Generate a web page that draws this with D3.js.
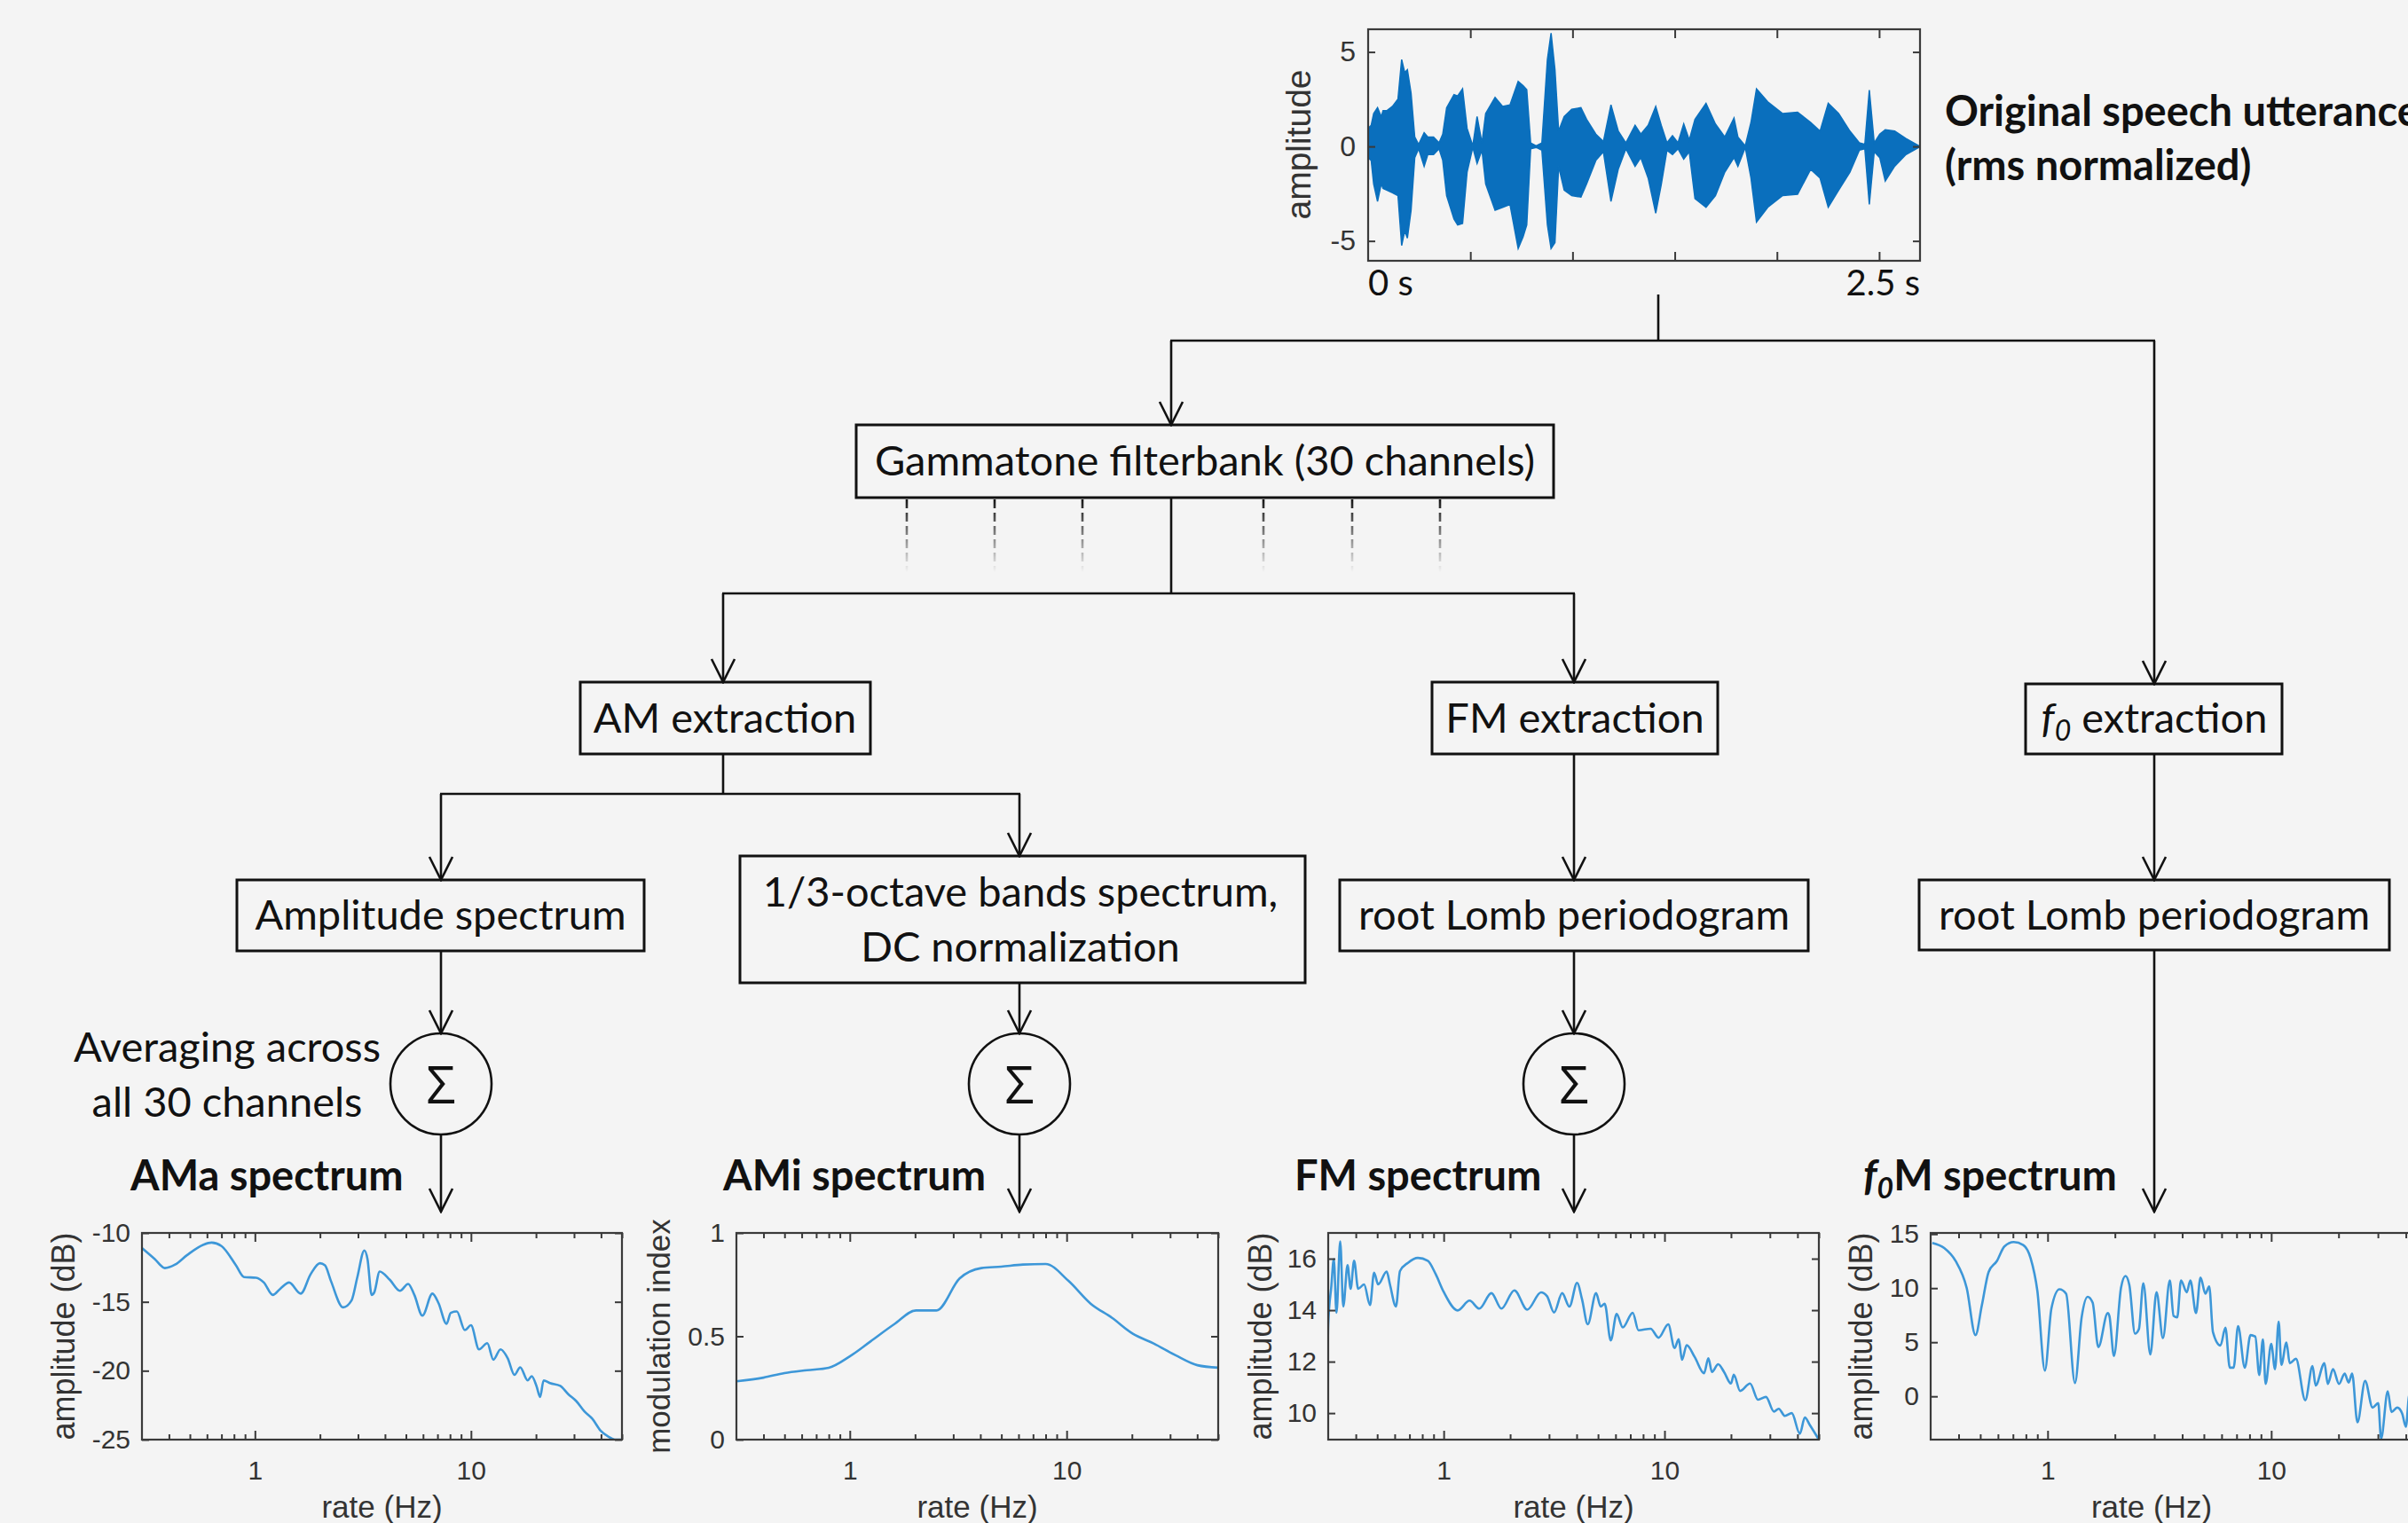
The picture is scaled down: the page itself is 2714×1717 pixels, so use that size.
<!DOCTYPE html>
<html>
<head>
<meta charset="utf-8">
<script src="https://cdn.jsdelivr.net/npm/d3@7"></script>
<style>
  html, body { margin: 0; padding: 0; background: #f4f4f4; }
  svg { display: block; }
  .flow { font-family: Lato, "Open Sans", sans-serif; fill: #111; }
  .axisText { font-family: "Liberation Sans", Arial, sans-serif; fill: #333; }
  .tick text { font-family: "Liberation Sans", Arial, sans-serif; fill: #333; }
  .tick line { stroke: #3a3a3a; stroke-width: 2; }
</style>
</head>
<body>
<div id="chart"></div>
<script>
// ---- data ----
// speech waveform envelope (time in s, upper / lower amplitude)
const waveT = [0.000, 0.015, 0.027, 0.046, 0.064, 0.073, 0.091, 0.119, 0.146, 0.164, 0.179, 0.192, 0.210, 0.228, 0.247, 0.274, 0.292, 0.320, 0.347, 0.365,
  0.384, 0.420, 0.438, 0.462, 0.484, 0.512, 0.533, 0.557, 0.575, 0.621, 0.658, 0.694, 0.734, 0.758, 0.776, 0.795, 0.822, 0.850, 0.877, 0.895,
  0.914, 0.932, 0.959, 0.996, 1.041, 1.069, 1.114, 1.151, 1.188, 1.224, 1.261, 1.306, 1.334, 1.370, 1.407, 1.434, 1.462, 1.489, 1.516, 1.544,
  1.571, 1.599, 1.653, 1.699, 1.745, 1.790, 1.809, 1.845, 1.873, 1.900, 1.955, 2.028, 2.101, 2.165, 2.211, 2.251, 2.302, 2.357, 2.403, 2.430,
  2.452, 2.476, 2.503, 2.530, 2.576, 2.631, 2.695];
const waveMax = [0.96, 1.12, 1.74, 2.05, 1.58, 1.89, 1.89, 2.12, 2.51, 4.60, 3.91, 4.06, 2.82, 0.50, 0.11, 0.73, 0.50, 0.50, 0.19, 0.65,
  2.05, 2.74, 2.67, 3.05, 0.96, 0.03, 1.58, 0.19, 1.74, 2.59, 2.12, 2.20, 3.44, 3.22, 3.00, 0.19, 0.03, 0.19, 4.60, 6.00,
  4.06, 0.81, 1.58, 1.97, 2.05, 1.43, 0.65, 0.26, 2.20, 0.81, 0.19, 1.12, 0.65, 1.12, 2.12, 1.12, 0.19, 0.57, 0.19, 1.19,
  0.34, 1.43, 2.28, 1.19, 0.50, 1.50, 0.50, 0.03, 1.27, 3.05, 2.36, 1.74, 1.81, 1.27, 0.81, 2.28, 1.74, 0.81, 0.19, 0.11,
  2.98, 0.19, 0.65, 0.88, 0.81, 0.42, 0.03];
const waveMin = [-0.59, -0.74, -1.98, -2.91, -1.98, -2.22, -2.31, -2.45, -2.60, -5.24, -4.47, -4.85, -3.38, -0.59, -0.12, -1.05, -0.43, -0.43, -0.12, -0.74,
  -2.60, -3.84, -4.15, -4.08, -1.36, -0.05, -0.90, -0.20, -1.98, -3.38, -3.22, -3.07, -5.40, -4.78, -4.15, -0.12, -0.05, -0.20, -4.15, -5.40,
  -5.09, -1.05, -2.31, -2.60, -2.68, -1.98, -0.74, -0.28, -2.91, -1.19, -0.12, -1.05, -0.59, -1.67, -3.53, -2.02, -0.20, -0.43, -0.12, -0.67,
  -0.28, -2.76, -3.22, -2.60, -1.36, -0.59, -1.05, -0.05, -1.67, -4.00, -3.22, -2.60, -2.53, -1.21, -1.67, -3.22, -2.31, -1.36, -0.20, -0.12,
  -3.07, -0.28, -0.59, -1.83, -1.05, -0.43, -0.05];
const waveYTicks = [-5, 0, 5];
const waveXTicks = [0.5, 1, 1.5, 2, 2.5];

// AMa spectrum (rate Hz, amplitude dB)
const amaF = [0.30, 0.344, 0.383, 0.427, 0.486, 0.578, 0.63, 0.70, 0.817, 0.89, 1.013, 1.10, 1.21, 1.31, 1.44, 1.63, 1.81, 2.0, 2.11, 2.25,
  2.56, 2.80, 2.98, 3.21, 3.32, 3.47, 3.57, 3.78, 4.21, 4.69, 5.12, 5.47, 5.96, 6.63, 7.08, 7.71, 8.06, 8.6, 9.37, 10.0,
  10.9, 11.9, 12.7, 13.7, 14.8, 15.9, 16.9, 18.3, 19.1, 20.1, 20.9, 21.7, 23.2, 25.9, 28.2, 30.7, 33.5, 36.5, 39.8, 43.4, 46.3, 50];
const amaDb = [-11.1, -11.9, -12.55, -12.3, -11.6, -10.85, -10.7, -10.95, -12.35, -13.2, -13.25, -13.6, -14.5, -14.05, -13.6, -14.4, -13.0, -12.2, -12.35, -13.5,
  -15.4, -14.9, -13.2, -11.27, -11.9, -14.5, -14.3, -12.8, -13.4, -14.2, -13.7, -14.5, -16.0, -14.4, -15.1, -16.6, -15.8, -15.7, -17.05, -16.7,
  -18.45, -18.0, -19.2, -18.45, -19.1, -20.3, -19.75, -20.7, -20.4, -21.1, -21.9, -20.7, -20.9, -21.1, -21.7, -22.2, -22.95, -23.5, -24.35, -24.8, -25.0, -25.0];

// AMi spectrum (rate Hz, modulation index)
const amiF = [0.30, 0.40, 0.50, 0.635, 0.80, 1.0, 1.245, 1.60, 2.02, 2.51, 3.21, 4.04, 4.99, 6.29, 8.0, 10.2, 12.9, 16.2, 20.2, 25.2, 31.8, 40.1, 50];
const amiIdx = [0.282, 0.30, 0.322, 0.336, 0.348, 0.403, 0.475, 0.558, 0.625, 0.625, 0.78, 0.83, 0.837, 0.847, 0.85, 0.768, 0.658, 0.589, 0.512, 0.465, 0.408, 0.36, 0.348];

// FM spectrum (rate Hz, amplitude dB)
const fmF = [0.298, 0.30, 0.31, 0.318, 0.327, 0.34, 0.351, 0.367, 0.379, 0.393, 0.41, 0.436, 0.464, 0.484, 0.505, 0.552, 0.571, 0.608, 0.634, 0.689,
  0.764, 0.847, 0.92, 1.0, 1.157, 1.31, 1.45, 1.645, 1.825, 2.09, 2.39, 2.76, 2.94, 3.16, 3.44, 3.71, 4.02, 4.23, 4.49, 4.9,
  5.14, 5.36, 5.71, 6.07, 6.47, 7.18, 7.62, 8.65, 9.4, 10.4, 11.1, 11.6, 12.0, 12.6, 13.7, 15.1, 15.8, 16.4, 17.5, 18.6,
  20.0, 20.6, 22.0, 24.4, 26.5, 28.8, 31.3, 32.9, 35.1, 37.7, 41.0, 43.2, 45.5, 50];
const fmDb = [12.07, 13.45, 14.94, 15.98, 13.9, 16.67, 14.14, 15.75, 14.83, 15.92, 14.83, 15.0, 14.2, 15.46, 15.0, 15.5, 15.0, 14.14, 15.52, 15.84,
  16.03, 15.92, 15.4, 14.71, 13.99, 14.37, 14.06, 14.66, 14.06, 14.77, 14.02, 14.69, 14.54, 13.91, 14.66, 14.14, 15.06, 14.43, 13.45, 14.66,
  14.14, 14.25, 12.82, 13.85, 13.33, 13.9, 13.22, 13.28, 12.93, 13.45, 12.53, 12.87, 12.07, 12.64, 12.18, 11.55, 12.13, 11.6, 11.9, 11.6,
  11.15, 11.49, 10.86, 11.15, 10.52, 10.63, 10.06, 10.17, 9.89, 10.0, 9.2, 9.83, 9.54, 8.97];

// f0M spectrum (rate Hz, amplitude dB)
const f0F = [0.305, 0.345, 0.388, 0.435, 0.476, 0.508, 0.545, 0.593, 0.641, 0.706, 0.778, 0.84, 0.90, 0.973, 1.04, 1.13, 1.21, 1.326, 1.42, 1.51,
  1.59, 1.686, 1.858, 1.89, 1.98, 2.13, 2.23, 2.32, 2.46, 2.56, 2.68, 2.88, 3.07, 3.28, 3.52, 3.66, 3.80, 3.95, 4.19, 4.35,
  4.61, 4.83, 5.08, 5.28, 5.49, 5.93, 6.24, 6.53, 6.79, 7.11, 7.62, 8.08, 8.49, 8.84, 9.18, 9.44, 10.0, 10.4, 10.8, 11.1,
  11.7, 12.1, 12.9, 14.2, 15.3, 15.8, 17.3, 17.9, 18.9, 20.1, 21.3, 22.2, 23.0, 24.3, 26.3, 28.4, 30.1, 31.0, 33.2, 34.5,
  36.6, 38.5, 40.0, 41.5, 44.0, 47.0];
const f0Db = [14.18, 13.7, 12.5, 10.0, 5.66, 8.39, 11.5, 12.5, 13.85, 14.26, 13.99, 12.76, 9.75, 2.38, 8.11, 9.89, 9.48, 1.23, 7.3, 9.2,
  8.66, 4.56, 7.7, 7.43, 3.74, 10.03, 11.12, 10.3, 5.79, 6.2, 10.44, 3.88, 9.62, 5.38, 10.71, 7.43, 7.3, 10.71, 9.62, 10.71,
  7.7, 10.98, 9.48, 10.16, 5.93, 4.7, 6.34, 2.65, 2.65, 6.48, 2.65, 5.66, 5.52, 1.97, 5.25, 1.15, 4.84, 2.51, 6.89, 2.92,
  4.97, 3.06, 3.47, -0.36, 2.79, 1.01, 3.06, 1.15, 2.51, 1.15, 2.1, 1.28, 2.1, -2.4, 1.42, -1.04, -0.63, -3.9, 0.46, -1.45,
  -1.04, -1.58, -2.81, 0.19, -1.0, -2.0];

const logMajor = [1, 10];
const logMinor = [0.4, 0.5, 0.6, 0.7, 0.8, 0.9, 2, 3, 4, 5, 6, 7, 8, 9, 20, 30, 40, 50];
const amaYTicks = [-25, -20, -15, -10];
const amiYTicks = [0, 0.5, 1];
const fmYTicks = [10, 12, 14, 16];
const f0YTicks = [0, 5, 10, 15];

// ---- drawing ----
const width = 2714, height = 1717;
const svg = d3.select('#chart').append('svg')
  .attr('width', width)
  .attr('height', height);

svg.append('rect').attr('width', width).attr('height', height).attr('fill', '#f4f4f4');

const defs = svg.append('defs');
defs.append('marker')
  .attr('id', 'arrow')
  .attr('markerUnits', 'userSpaceOnUse')
  .attr('viewBox', '-30 -16 32 32')
  .attr('markerWidth', 32).attr('markerHeight', 32)
  .attr('refX', 0).attr('refY', 0)
  .attr('orient', 'auto')
  .append('path')
  .attr('d', 'M-26,-13 L0,0 L-26,13')
  .attr('fill', 'none').attr('stroke', '#111').attr('stroke-width', 2.6);

const grad = defs.append('linearGradient')
  .attr('id', 'fade').attr('gradientUnits', 'userSpaceOnUse')
  .attr('x1', 0).attr('x2', 0).attr('y1', 561).attr('y2', 645);
grad.append('stop').attr('offset', 0).attr('stop-color', '#111').attr('stop-opacity', 1);
grad.append('stop').attr('offset', 1).attr('stop-color', '#111').attr('stop-opacity', 0);

const flow = svg.append('g');
const FS = 47;

function line(x1, y1, x2, y2, arrow) {
  const l = flow.append('line')
    .attr('x1', x1).attr('y1', y1).attr('x2', x2).attr('y2', y2)
    .attr('stroke', '#111').attr('stroke-width', 2.6);
  if (arrow) l.attr('marker-end', 'url(#arrow)');
  return l;
}

function box(x0, y0, x1, y1, lines, cx) {
  flow.append('rect')
    .attr('x', x0).attr('y', y0).attr('width', x1 - x0).attr('height', y1 - y0)
    .attr('fill', 'none').attr('stroke', '#111').attr('stroke-width', 3);
  const cy = (y0 + y1) / 2;
  const n = lines.length;
  lines.forEach((txt, i) => {
    flow.append('text').attr('class', 'flow')
      .attr('x', cx == null ? (x0 + x1) / 2 : cx)
      .attr('y', cy + 16 + (i - (n - 1) / 2) * 62)
      .attr('text-anchor', 'middle')
      .style('font-size', FS + 'px')
      .text(txt);
  });
}

function sigma(cx, cy) {
  flow.append('circle').attr('cx', cx).attr('cy', cy).attr('r', 57)
    .attr('fill', 'none').attr('stroke', '#111').attr('stroke-width', 2.6);
  flow.append('text').attr('x', cx).attr('y', cy + 22)
    .attr('text-anchor', 'middle')
    .style('font-family', '"Open Sans", sans-serif').style('font-size', '58px').attr('fill', '#111')
    .text('Σ');
}

// connectors
line(1869, 332, 1869, 384);
line(1319, 384, 2429, 384);
line(1320, 384, 1320, 479, true);
line(2428, 384, 2428, 771, true);
box(965, 479, 1751, 561, ['Gammatone filterbank (30 channels)']);
[1022, 1121, 1220, 1424, 1524, 1623].forEach(xx => {
  flow.append('line').attr('x1', xx).attr('x2', xx).attr('y1', 563).attr('y2', 645)
    .attr('stroke', 'url(#fade)').attr('stroke-width', 2.6).attr('stroke-dasharray', '10,5');
});
line(1320, 561, 1320, 669);
line(814, 669, 1775, 669);
line(815, 669, 815, 769, true);
line(1774, 669, 1774, 769, true);

box(654, 769, 981, 850, ['AM extraction'], 817);
box(1614, 769, 1936, 850, ['FM extraction'], 1775);
flow.append('rect').attr('x', 2283).attr('y', 771).attr('width', 289).attr('height', 79)
  .attr('fill', 'none').attr('stroke', '#111').attr('stroke-width', 3);
const f0t = flow.append('text').attr('class', 'flow').attr('x', 2428).attr('y', 826)
  .attr('text-anchor', 'middle').style('font-size', FS + 'px');
f0t.append('tspan').style('font-style', 'italic').text('f');
f0t.append('tspan').style('font-style', 'italic').style('font-size', '32px').attr('dy', 9).text('0');
f0t.append('tspan').attr('dy', -9).text(' extraction');

line(815, 850, 815, 895);
line(496, 895, 1150, 895);
line(497, 895, 497, 992, true);
line(1149, 895, 1149, 965, true);
line(1774, 850, 1774, 992, true);
line(2428, 850, 2428, 992, true);

box(267, 992, 726, 1072, ['Amplitude spectrum']);
box(834, 965, 1471, 1108, ['1/3-octave bands spectrum,', 'DC normalization'], 1150);
box(1510, 992, 2038, 1072, ['root Lomb periodogram'], 1774);
box(2163, 992, 2693, 1071, ['root Lomb periodogram'], 2428);

line(497, 1072, 497, 1165, true);
line(1149, 1108, 1149, 1165, true);
line(1774, 1072, 1774, 1165, true);
[497, 1149, 1774].forEach(cx => {
  sigma(cx, 1222);
  line(cx, 1279, cx, 1366, true);
});
line(2428, 1071, 2428, 1366, true);

flow.append('text').attr('class', 'flow').attr('x', 256).attr('y', 1197)
  .attr('text-anchor', 'middle').style('font-size', FS + 'px').text('Averaging across');
flow.append('text').attr('class', 'flow').attr('x', 256).attr('y', 1259)
  .attr('text-anchor', 'middle').style('font-size', FS + 'px').text('all 30 channels');

function boldLabel(x, y, txt) {
  return flow.append('text').attr('class', 'flow').attr('x', x).attr('y', y)
    .style('font-size', FS + 'px').style('font-weight', 700).text(txt);
}
boldLabel(147, 1342, 'AMa spectrum');
boldLabel(815, 1342, 'AMi spectrum');
boldLabel(1459, 1342, 'FM spectrum');
const f0m = flow.append('text').attr('class', 'flow').attr('x', 2100).attr('y', 1342)
  .style('font-size', FS + 'px').style('font-weight', 700);
f0m.append('tspan').style('font-style', 'italic').text('f');
f0m.append('tspan').style('font-style', 'italic').style('font-size', '32px').attr('dy', 9).text('0');
f0m.append('tspan').attr('dy', -9).text('M spectrum');

boldLabel(2192, 142, 'Original speech utterance');
boldLabel(2192, 203, '(rms normalized)');

// ---- axes helpers ----
function boxFrame(g, x0, y0, x1, y1) {
  g.append('rect').attr('x', x0).attr('y', y0).attr('width', x1 - x0).attr('height', y1 - y0)
    .attr('fill', 'none').attr('stroke', '#3a3a3a').attr('stroke-width', 2.2);
}

function callAxis(g, axis, tx, ty, fs) {
  const a = g.append('g').attr('transform', `translate(${tx},${ty})`).call(axis);
  a.select('.domain').remove();
  a.selectAll('text').style('font-size', fs + 'px');
  return a;
}

// ---- waveform ----
{
  const g = svg.append('g');
  const x0 = 1542, x1 = 2164, y0 = 33, y1 = 294;
  const x = d3.scaleLinear().domain([0, 2.7]).range([x0, x1]);
  const y = d3.scaleLinear().domain([-6.05, 6.2]).range([y1, y0]);
  const pts = waveT.map((t, i) => ({ t: t, hi: waveMax[i], lo: waveMin[i] }));
  const area = d3.area().x(d => x(d.t)).y0(d => y(d.lo)).y1(d => y(d.hi));
  g.append('path').datum(pts).attr('d', area)
    .attr('fill', '#0a6fbd').attr('stroke', '#0a6fbd').attr('stroke-width', 1.5);
  boxFrame(g, x0, y0, x1, y1);
  callAxis(g, d3.axisBottom(x).tickValues(waveXTicks).tickSize(-10).tickFormat(''), 0, y1, 30);
  callAxis(g, d3.axisTop(x).tickValues(waveXTicks).tickSize(-10).tickFormat(''), 0, y0, 30);
  callAxis(g, d3.axisLeft(y).tickValues(waveYTicks).tickSize(-8).tickPadding(14).tickFormat(d => String(d)), x0, 0, 32);
  callAxis(g, d3.axisRight(y).tickValues(waveYTicks).tickSize(-8).tickFormat(''), x1, 0, 30);
  g.append('text').attr('class', 'axisText')
    .attr('transform', `translate(1463,163) rotate(-90)`)
    .attr('text-anchor', 'middle').attr('dominant-baseline', 'central')
    .style('font-size', '39px').text('amplitude');
  g.append('text').attr('class', 'flow').attr('x', x0).attr('y', 333)
    .style('font-size', '40px').text('0 s');
  g.append('text').attr('class', 'flow').attr('x', x1).attr('y', 333)
    .attr('text-anchor', 'end').style('font-size', '40px').text('2.5 s');
}

// ---- spectra panels ----
const panels = [
  { id: 'ama', x0: 160, x1: 701, yDom: [-25, -10], f: amaF, v: amaDb, yTicks: amaYTicks, yLabel: 'amplitude (dB)', yLabelX: 71, fs: 36 },
  { id: 'ami', x0: 830, x1: 1373, yDom: [0, 1], f: amiF, v: amiIdx, yTicks: amiYTicks, yLabel: 'modulation index', yLabelX: 742, fs: 35 },
  { id: 'fm', x0: 1497, x1: 2050, yDom: [8.97, 17], f: fmF, v: fmDb, yTicks: fmYTicks, yLabel: 'amplitude (dB)', yLabelX: 1420, fs: 36 },
  { id: 'f0', x0: 2176, x1: 2736, yDom: [-4, 15.1], f: f0F, v: f0Db, yTicks: f0YTicks, yLabel: 'amplitude (dB)', yLabelX: 2097, fs: 36 }
];
const py0 = 1390, py1 = 1623;

panels.forEach(p => {
  const g = svg.append('g');
  const x = d3.scaleLog().domain([0.3, 50]).range([p.x0, p.x1]);
  const y = d3.scaleLinear().domain(p.yDom).range([py1, py0]);

  g.append('clipPath').attr('id', 'clip-' + p.id).append('rect')
    .attr('x', p.x0).attr('y', py0 - 1).attr('width', p.x1 - p.x0).attr('height', py1 - py0 + 2);
  const line = d3.line().x(d => x(d[0])).y(d => y(d[1])).curve(d3.curveMonotoneX);
  g.append('path').datum(d3.zip(p.f, p.v)).attr('d', line)
    .attr('clip-path', `url(#clip-${p.id})`)
    .attr('fill', 'none').attr('stroke', '#3d97d8').attr('stroke-width', 2.6);

  boxFrame(g, p.x0, py0, p.x1, py1);
  callAxis(g, d3.axisBottom(x).tickValues(logMajor).tickSize(-10).tickPadding(24).tickFormat(d3.format('d')), 0, py1, 30);
  callAxis(g, d3.axisBottom(x).tickValues(logMinor).tickSize(-6).tickFormat(''), 0, py1, 28);
  callAxis(g, d3.axisTop(x).tickValues(logMajor).tickSize(-10).tickFormat(''), 0, py0, 28);
  callAxis(g, d3.axisTop(x).tickValues(logMinor).tickSize(-6).tickFormat(''), 0, py0, 28);
  callAxis(g, d3.axisLeft(y).tickValues(p.yTicks).tickSize(-8).tickPadding(13).tickFormat(d => String(d)), p.x0, 0, 30);
  callAxis(g, d3.axisRight(y).tickValues(p.yTicks).tickSize(-8).tickFormat(''), p.x1, 0, 28);

  g.append('text').attr('class', 'axisText')
    .attr('transform', `translate(${p.yLabelX},${(py0 + py1) / 2}) rotate(-90)`)
    .attr('text-anchor', 'middle').attr('dominant-baseline', 'central')
    .style('font-size', p.fs + 'px').text(p.yLabel);
  g.append('text').attr('class', 'axisText')
    .attr('x', p.id === 'f0' ? 2425 : (p.x0 + p.x1) / 2).attr('y', 1711)
    .attr('text-anchor', 'middle')
    .style('font-size', '35px').text('rate (Hz)');
});
</script>
</body>
</html>
